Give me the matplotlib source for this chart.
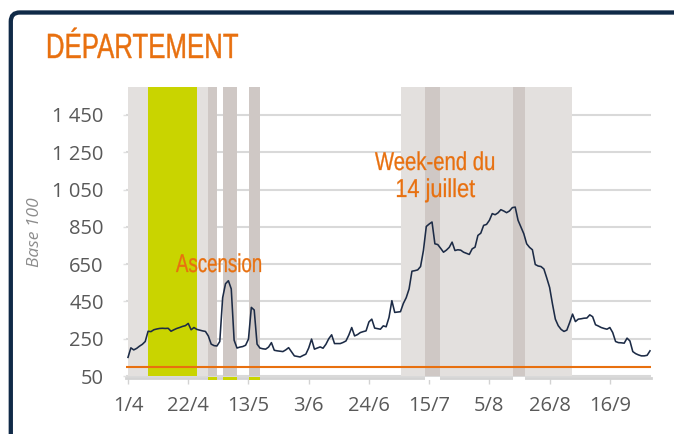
import matplotlib
matplotlib.use("Agg")
import matplotlib.pyplot as plt
from matplotlib.patches import FancyBboxPatch, PathPatch
from matplotlib.transforms import Affine2D
from matplotlib.textpath import TextPath
from matplotlib.font_manager import FontProperties

# ---- data (day index 0 = 1 April) ----
april = [150, 201, 190, 198, 210, 220, 235, 290, 288, 298, 302, 305, 306, 305, 306,
         290, 298, 305, 310, 316, 320, 332, 298, 310, 300, 296, 292, 289, 265, 221]
may = [213, 211, 235, 470, 545, 561, 517, 242, 200, 205, 208, 215, 248, 418, 404,
       221, 200, 196, 194, 205, 229, 188, 185, 183, 181, 190, 202, 180, 158, 155, 152]
june = [160, 167, 200, 248, 194, 200, 206, 199, 220, 250, 271, 224, 224, 224, 230,
        238, 270, 310, 265, 272, 283, 288, 292, 340, 355, 307, 304, 301, 319, 314]
july = [364, 454, 391, 393, 395, 439, 470, 517, 612, 615, 619, 637, 723, 852, 865,
        876, 759, 755, 735, 714, 725, 740, 768, 723, 727, 725, 714, 708, 702, 732, 741]
august = [804, 816, 858, 863, 885, 921, 915, 925, 942, 935, 926, 935, 953, 956, 885,
          849, 813, 759, 740, 727, 648, 640, 637, 624, 576, 525, 436, 355, 320, 300, 289]
september = [296, 337, 382, 342, 355, 357, 360, 361, 378, 368, 325, 318, 310, 305, 301,
             310, 283, 235, 229, 228, 226, 253, 238, 181, 170, 163, 158, 158, 161, 185]

values = april + may + june + july + august + september
days = list(range(len(values)))

baseline_value = 100

# holiday periods (start day, end day)
light_periods = [(0.0, 7.0), (24.1, 27.9), (95.2, 154.8)]
easter_period = [(7.0, 24.1)]
bridge_periods = [(27.9, 31.0), (33.1, 38.0), (42.2, 46.0)]
summer_weekends = [(103.6, 108.8), (134.4, 138.4)]

xtick_days = [0, 21, 42, 63, 84, 105, 126, 147, 168]
xtick_labels = ["1/4", "22/4", "13/5", "3/6", "24/6", "15/7", "5/8", "26/8", "16/9"]
ytick_values = [50, 250, 450, 650, 850, 1050, 1250, 1450]
ytick_labels = ["50", "250", "450", "650", "850", "1 050", "1 250", "1 450"]

# ---- styling ----
ORANGE = "#E8700F"
NAVY = "#1C2B46"
LIGHT = "#E3E0DE"
DARK = "#CFC8C5"
YELLOW = "#C9D400"
TICKC = "#595959"
FONT = ["Open Sans", "DejaVu Sans"]

W, H = 674, 434
fig = plt.figure(figsize=(W / 100, H / 100), dpi=100)
fig.patch.set_facecolor("white")
pix = Affine2D().scale(1 / W, 1 / H) + fig.transFigure  # pixel coords, origin bottom-left


def condensed_text(s, x, y_top_baseline, em_px, width_px, ha="left", stroke=0.2):
    """Draw text as a horizontally condensed path (x, baseline given in px from top-left)."""
    tp = TextPath((0, 0), s, size=em_px, prop=FontProperties(family="Liberation Sans"))
    ext = tp.get_extents()
    sx = width_px / ext.width
    if ha == "center":
        x0 = x - (ext.x0 + ext.width / 2) * sx
    else:
        x0 = x - ext.x0 * sx
    tr = Affine2D().scale(sx, 1).translate(x0, H - y_top_baseline) + pix
    fig.patches.append(PathPatch(tp, transform=tr, facecolor=ORANGE,
                                 edgecolor=ORANGE, lw=stroke, zorder=12))


ax = fig.add_axes([126 / W, 1 - 378 / H, 525 / W, 291 / H])
ymin_v, ymax_v = 39.3, 1600
ax.set_xlim(-0.7, 182.35)
ax.set_ylim(ymin_v, ymax_v)
band_bottom = (50 - ymin_v) / (ymax_v - ymin_v)

for s, e in light_periods:
    ax.axvspan(s, e, ymin=band_bottom, ymax=1, color=LIGHT, lw=0, zorder=1)
for s, e in easter_period:
    ax.axvspan(s, e, ymin=band_bottom, ymax=1, color=YELLOW, lw=0, zorder=1.1)
for s, e in bridge_periods:
    ax.axvspan(s, e, ymin=band_bottom, ymax=1, color=DARK, lw=0, zorder=1.1)
    ax.axvspan(s, e, ymin=-0.006, ymax=0.002, color=YELLOW, lw=0, zorder=3,
               clip_on=False)
for s, e in summer_weekends:
    ax.axvspan(s, e, ymin=band_bottom, ymax=1, color=DARK, lw=0, zorder=1.1)
    ax.axvspan(s, e, ymin=-0.006, ymax=band_bottom - 0.002, color="white", lw=0,
               zorder=3, clip_on=False)

ax.axhline(baseline_value, color=ORANGE, lw=1.5, zorder=2.5)
ax.plot(days, values, color=NAVY, lw=1.15, zorder=4, solid_joinstyle="round")

ax.set_yticks(ytick_values)
ax.set_yticklabels(ytick_labels)
ax.set_xticks(xtick_days)
ax.set_xticklabels(xtick_labels)
ax.grid(axis="y", color="#D9D9D9", lw=1.5)
ax.set_axisbelow(True)

for sp in ["top", "right", "left"]:
    ax.spines[sp].set_visible(False)
ax.spines["bottom"].set_color("#D3D3D3")
ax.spines["bottom"].set_linewidth(2.0)

ax.tick_params(axis="x", length=4, width=1, color="#D3D3D3", pad=9,
               labelsize=14.5, labelcolor=TICKC)
ax.tick_params(axis="y", length=2, width=1, color="#E0E0E0", pad=14,
               labelsize=14.5, labelcolor=TICKC)
for lab in ax.get_xticklabels() + ax.get_yticklabels():
    lab.set_family(FONT)

# annotations (condensed orange text)
condensed_text("Ascension", 218.5, 272, 25.8, 85, ha="center")
condensed_text("Week-end du", 434.5, 170, 25.8, 119, ha="center")
condensed_text("14 juillet", 436, 197, 25.8, 78, ha="center")

# title
condensed_text("DÉPARTEMENT", 48, 58, 35, 190, ha="left", stroke=0.3)

# y label
fig.text(35 / W, 1 - 232.5 / H, "Base 100", rotation=90, color="#8C8C8C",
         fontsize=12.5, style="italic", family=FONT, ha="center", va="center")

# frame
frame = FancyBboxPatch((10.8, -60), 760, H - 12.5 + 60,
                       boxstyle="round,pad=0,rounding_size=9",
                       transform=pix, fill=False, edgecolor="#102A47",
                       lw=3.1, zorder=10)
fig.patches.append(frame)

fig.savefig("out.png", dpi=100, facecolor="white")
